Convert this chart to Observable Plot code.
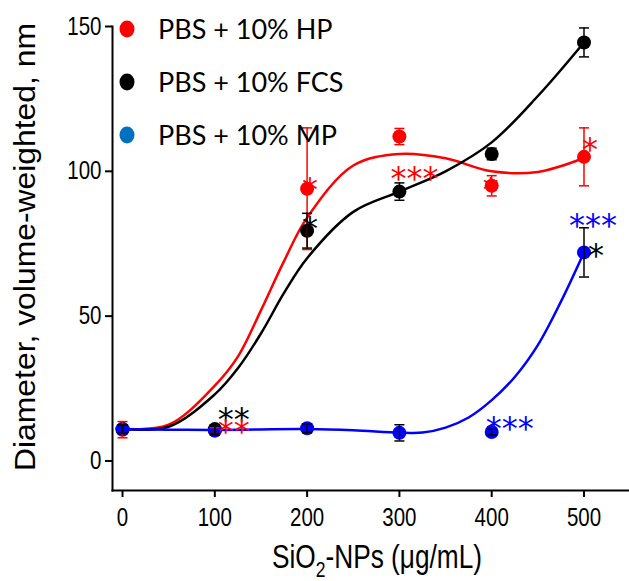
<!DOCTYPE html>
<html><head><meta charset="utf-8">
<script src="https://cdn.jsdelivr.net/npm/d3@7"></script>
<script src="https://cdn.jsdelivr.net/npm/@observablehq/plot@0.6"></script>
<style>
html,body{margin:0;padding:0;background:#fff;}
#chart{width:629px;height:581px;}
</style>
</head><body><div id="chart"></div>
<script>
// ---- data ----
const seriesNames = ["PBS + 10% HP", "PBS + 10% FCS", "PBS + 10% MP"];
const seriesColors = ["#ff0000", "#000000", "#0000ff"];
const legendColors = ["#ff0000", "#000000", "#0070c0"];
const errColors = ["#ff0000", "#000000", "#000000"];

const conc = [0, 100, 200, 300, 400, 500];
const hpMean = [10.8, 10.5, 94, 112, 95, 105];
const hpErr = [2.8, 1, 21, 2.8, 3.5, 10];
const fcsMean = [11, 11, 79.5, 93, 106, 144.5];
const fcsErr = [1.5, 1.5, 6, 3, 2, 5];
const mpMean = [11, 10.5, 11.3, 9.7, 10, 72];
const mpErr = [1.5, 1.5, 1.5, 2.8, 1, 8.5];

// fitted curves
const fitConcHP = [0, 50, 100, 125, 150, 175, 200, 250, 300, 350, 400, 450, 500];
const fitHP = [11, 12.5, 26, 36, 52, 69, 84, 102, 106, 104.5, 100, 99.8, 104.6];
const fitConcFCS = [0, 50, 100, 125, 150, 175, 200, 250, 300, 350, 400, 450, 500];
const fitFCS = [11, 11.8, 23, 32, 44, 58, 70, 86, 93, 100, 110, 126, 144.5];
const fitConcMP = [0, 50, 100, 150, 200, 250, 300, 325, 350, 375, 400, 425, 450, 475, 500];
const fitMP = [11, 10.8, 10.7, 10.9, 11, 10.6, 9.8, 9.8, 11.5, 15, 21, 29, 40, 55, 72];

// significance marks: anchored at a series point
const starSeries = [0, 1, 0, 0, 0, 1, 0, 2, 2, 2];
const starConc = [200, 200, 300, 400, 500, 100, 100, 400, 500, 500];
const starText = ["*", "*", "***", "*", "*", "**", "**", "***", "***", "*"];
const starColorIdx = [0, 1, 0, 0, 0, 1, 0, 2, 2, 1];
const starDx = [3, 3, 15, -1, 6, 19, 19, 18, 9, 12];
const starDy = [-7, -10, 34, -4, -15, -17, -7, -11, -35, -5];

const xTicks = [0, 100, 200, 300, 400, 500];
const yTicks = [0, 50, 100, 150];

// ---- build tables ----
const means = [hpMean, fcsMean, mpMean];
const errs = [hpErr, fcsErr, mpErr];
const points = [];
means.forEach((m, s) => conc.forEach((c, i) => points.push({s, x: c, y: m[i], e: errs[s][i]})));
const fits = [];
[[fitConcHP, fitHP], [fitConcFCS, fitFCS], [fitConcMP, fitMP]].forEach(([xs, ys], s) =>
  xs.forEach((x, i) => fits.push({s, x, y: ys[i]})));
const stars = starText.map((t, i) => ({
  t, x: starConc[i], y: means[starSeries[i]][conc.indexOf(starConc[i])],
  c: seriesColors[starColorIdx[i]], dx: starDx[i], dy: starDy[i]
}));

const capSymbol = {draw(ctx) { ctx.moveTo(-5, 0); ctx.lineTo(5, 0); }};
const tickFont = "'Liberation Sans', Arial, sans-serif";
const starShift = 8;

const marks = [
  Plot.frame({anchor: "left", strokeWidth: 2}),
  Plot.frame({anchor: "bottom", strokeWidth: 2}),
  Plot.axisY({ticks: yTicks, tickSize: 7, tickPadding: 4, fontSize: 25, label: null, strokeWidth: 2, fontFamily: tickFont}),
  Plot.axisX({ticks: xTicks, tickSize: 7, tickPadding: 11, fontSize: 25, label: null, strokeWidth: 2, fontFamily: tickFont}),
];
[0, 1, 2].forEach(s => {
  marks.push(Plot.line(fits.filter(d => d.s === s), {x: "x", y: "y", stroke: seriesColors[s], strokeWidth: 2.5, curve: "catmull-rom"}));
});
[0, 1, 2].forEach(s => {
  marks.push(Plot.dot(points.filter(d => d.s === s), {x: "x", y: "y", r: 7, fill: seriesColors[s], stroke: "none"}));
});
[0, 1, 2].forEach(s => {
  const pts = points.filter(d => d.s === s);
  marks.push(Plot.ruleX(pts, {x: "x", y1: d => d.y - d.e, y2: d => d.y + d.e, stroke: errColors[s], strokeWidth: 1.5}));
  marks.push(Plot.dot(pts, {x: "x", y: d => d.y - d.e, symbol: capSymbol, stroke: errColors[s], strokeWidth: 1.5, fill: "none"}));
  marks.push(Plot.dot(pts, {x: "x", y: d => d.y + d.e, symbol: capSymbol, stroke: errColors[s], strokeWidth: 1.5, fill: "none"}));
});
stars.forEach(st => {
  marks.push(Plot.text([st], {x: "x", y: "y", text: "t", fill: st.c, dx: st.dx, dy: st.dy + starShift,
    fontSize: 32, fontFamily: "'DejaVu Sans', sans-serif", textAnchor: "middle", lineAnchor: "middle"}));
});

const chart = Plot.plot({
  width: 629, height: 581,
  marginLeft: 112, marginRight: 0, marginTop: 26, marginBottom: 91,
  x: {domain: [-10.85, 549.3]},
  y: {domain: [-10.2, 150]},
  style: {background: "white", color: "black", fontFamily: tickFont, overflow: "visible"},
  marks
});
document.getElementById("chart").appendChild(chart);

const svg = d3.select(chart);
// condense the tick labels (the reference uses a narrow face)
svg.selectAll('g[aria-label="y-axis tick label"] text, g[aria-label="x-axis tick label"] text').each(function () {
  const w = this.getComputedTextLength();
  this.setAttribute("textLength", (w * 0.82).toFixed(1));
  this.setAttribute("lengthAdjust", "spacingAndGlyphs");
});
// y-axis title
svg.append("text")
  .attr("transform", "translate(35,247) rotate(-90)")
  .attr("text-anchor", "middle")
  .attr("font-family", "'Liberation Sans', Arial, sans-serif")
  .attr("font-size", 30)
  .attr("textLength", 448)
  .attr("lengthAdjust", "spacingAndGlyphs")
  .attr("fill", "black")
  .text("Diameter, volume-weighted, nm");
// x-axis title with subscript
const xt = svg.append("text")
  .attr("x", 377).attr("y", 568)
  .attr("text-anchor", "middle")
  .attr("font-family", tickFont)
  .attr("font-size", 33)
  .attr("textLength", 210)
  .attr("lengthAdjust", "spacingAndGlyphs")
  .attr("fill", "black");
xt.append("tspan").text("SiO");
xt.append("tspan").attr("font-size", 22).attr("dy", 9).text("2");
xt.append("tspan").attr("dy", -9).text("-NPs (\u03bcg/mL)");
// legend
const lg = svg.append("g");
seriesNames.forEach((n, i) => {
  const cy = 29 + i * 53;
  lg.append("ellipse").attr("cx", 127).attr("cy", cy).attr("rx", 7.5).attr("ry", 8.5).attr("fill", legendColors[i]);
  lg.append("text").attr("x", 158).attr("y", cy + 9.5).attr("text-anchor", "start")
    .attr("font-family", "Lato, 'Open Sans', sans-serif").attr("font-size", 27).attr("fill", "black").text(n);
});
</script>
</body></html>
